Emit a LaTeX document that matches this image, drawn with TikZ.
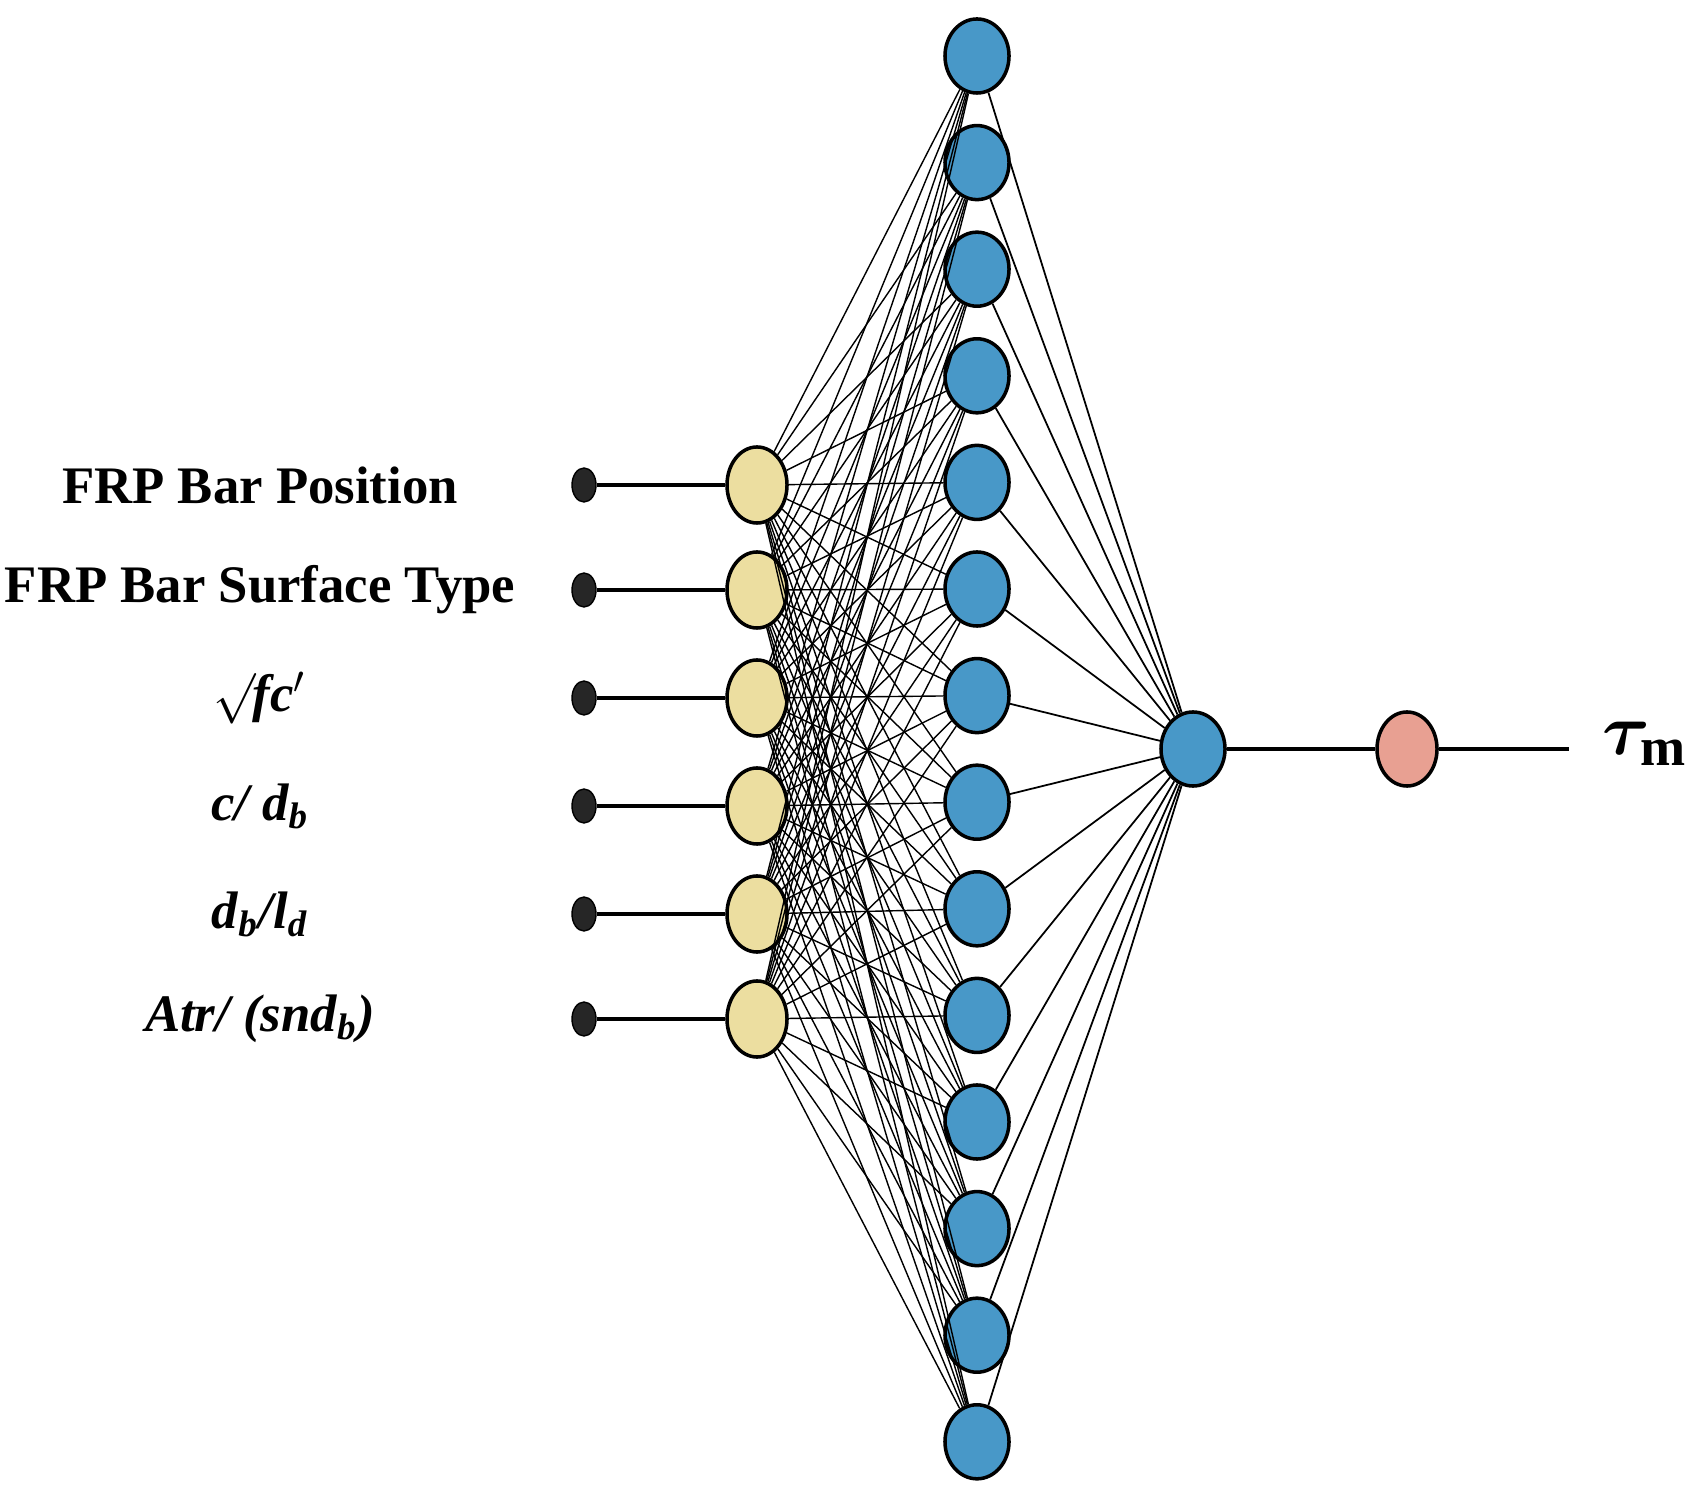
\documentclass[tikz,border=0pt]{standalone}
\usepackage{amsmath}
\usepackage{bm}
\usepackage{fontspec}
\setmainfont{Liberation Serif}
\usetikzlibrary{shapes.geometric}
\definecolor{hidblue}{RGB}{72,152,200}
\definecolor{inyellow}{RGB}{236,222,160}
\definecolor{outpink}{RGB}{232,160,146}
\tikzset{
    neuron/.style={draw, ellipse, line width=1pt, inner sep=0pt,
                   minimum width=0.64cm, minimum height=0.74cm},
    dot/.style={draw, ellipse, fill=black!85, inner sep=0pt,
                minimum width=0.24cm, minimum height=0.34cm},
    lbl/.style={font=\bfseries\fontsize{15}{17}\selectfont},
}
\begin{document}
\begin{tikzpicture}[x=0.01cm, y=-0.01cm]
    \useasboundingbox (0,0) rectangle (1688,1498);

    % hidden layer
    \foreach \i in {1,...,14}
        \node[neuron, fill=hidblue] (h\i) at (977, {56+(\i-1)*106.6}) {};

    % inputs
    \foreach \i/\y/\t in {1/485/FRP Bar Position,
                          2/590/FRP Bar Surface Type,
                          3/698/{\itshape $\surd$\kern-1pt fc$'$},
                          4/806/{\itshape c/ d\textsubscript{b}},
                          5/914/{\itshape d\textsubscript{b}/l\textsubscript{d}},
                          6/1019/{\itshape Atr/ (snd\textsubscript{b})}} {
        \node[neuron, fill=inyellow, minimum width=0.6cm, minimum height=0.76cm] (in\i) at (757,\y) {};
        \node[dot] (x\i) at (584,\y) {};
        \node[lbl] (l\i) at (260,\y) {\t};
        \draw[line width=1pt] (x\i) -- (in\i);
    }

    \node[neuron, fill=hidblue] (out) at (1193,749) {};
    \node[neuron, fill=outpink, minimum width=0.6cm] (res) at (1407,749) {};
    \coordinate (end) at (1569,749);
    \node[font=\bfseries\fontsize{22}{24}\selectfont, anchor=west] (tau) at (1590,744) {$\bm{\tau}_{\mathbf{m}}$};

    \foreach \i in {1,...,6}
        \foreach \j in {1,...,14}
            \draw[line width=0.4pt] (in\i) -- (h\j);
    \foreach \j in {1,...,14}
        \draw[line width=0.5pt] (h\j) -- (out);
    \draw[line width=1pt] (out) -- (res) (res) -- (end);
\end{tikzpicture}
\end{document}
